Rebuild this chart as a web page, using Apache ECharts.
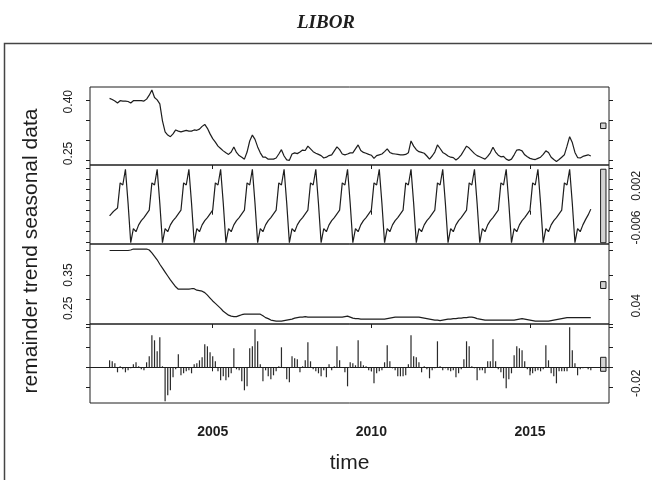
<!DOCTYPE html>
<html>
<head>
<meta charset="utf-8">
<title>LIBOR</title>
<script src="https://cdn.jsdelivr.net/npm/echarts@6.0.0/dist/echarts.min.js"></script>
<style>
  html, body { margin: 0; padding: 0; background: #fff; }
  #main { width: 652px; height: 480px; }
</style>
</head>
<body>
<div id="main"></div>
<script>
// monthly observations, first one at 2001.75
const startTime = 2001.75
const frequency = 12
const timeTicks = [2005, 2010, 2015]

const dataValues = [
  0.406, 0.403, 0.399, 0.394, 0.400, 0.399, 0.399, 0.398, 0.394, 0.400,
  0.400, 0.400, 0.400, 0.399, 0.404, 0.414, 0.427, 0.408, 0.402, 0.392,
  0.349, 0.321, 0.313, 0.309, 0.316, 0.326, 0.323, 0.321, 0.323, 0.325,
  0.323, 0.323, 0.326, 0.325, 0.328, 0.335, 0.340, 0.330, 0.316, 0.304,
  0.295, 0.285, 0.279, 0.273, 0.268, 0.264, 0.270, 0.283, 0.269, 0.261,
  0.257, 0.252, 0.270, 0.298, 0.313, 0.302, 0.283, 0.268, 0.257, 0.257,
  0.252, 0.252, 0.252, 0.255, 0.265, 0.276, 0.260, 0.250, 0.249, 0.265,
  0.268, 0.266, 0.270, 0.275, 0.274, 0.285, 0.278, 0.271, 0.267, 0.264,
  0.261, 0.255, 0.257, 0.261, 0.263, 0.273, 0.283, 0.276, 0.265, 0.263,
  0.265, 0.268, 0.268, 0.278, 0.288, 0.274, 0.269, 0.267, 0.264, 0.262,
  0.254, 0.261, 0.263, 0.265, 0.271, 0.278, 0.269, 0.266, 0.265, 0.264,
  0.263, 0.263, 0.264, 0.268, 0.298, 0.285, 0.276, 0.271, 0.269, 0.267,
  0.260, 0.252, 0.260, 0.270, 0.288, 0.279, 0.269, 0.265, 0.260, 0.257,
  0.256, 0.250, 0.255, 0.263, 0.274, 0.285, 0.280, 0.273, 0.266, 0.261,
  0.258, 0.255, 0.252, 0.259, 0.268, 0.282, 0.270, 0.262, 0.258, 0.259,
  0.252, 0.249, 0.252, 0.263, 0.275, 0.276, 0.273, 0.263, 0.258, 0.254,
  0.252, 0.251, 0.254, 0.257, 0.264, 0.273, 0.269, 0.257, 0.251, 0.246,
  0.251, 0.257, 0.263, 0.285, 0.309, 0.294, 0.269, 0.256, 0.255, 0.259,
  0.261, 0.263, 0.260
]

const seasonalValues = [
  -0.0010, -0.0004, 0.0001, 0.0005, 0.0053, 0.0049, 0.0079, 0.0014,
  -0.0061, -0.0034, -0.0040, -0.0027, -0.0019, -0.0013, -0.0006, 0.0001, 0.0053, 0.0049, 0.0079, 0.0014,
  -0.0061, -0.0034, -0.0040, -0.0027, -0.0019, -0.0013, -0.0006, 0.0001, 0.0053, 0.0049, 0.0079, 0.0014,
  -0.0061, -0.0034, -0.0040, -0.0027, -0.0019, -0.0013, -0.0006, 0.0001, 0.0053, 0.0049, 0.0079, 0.0014,
  -0.0061, -0.0034, -0.0040, -0.0027, -0.0019, -0.0013, -0.0006, 0.0001, 0.0053, 0.0049, 0.0079, 0.0014,
  -0.0061, -0.0034, -0.0040, -0.0027, -0.0019, -0.0013, -0.0006, 0.0001, 0.0053, 0.0049, 0.0079, 0.0014,
  -0.0061, -0.0034, -0.0040, -0.0027, -0.0019, -0.0013, -0.0006, 0.0001, 0.0053, 0.0049, 0.0079, 0.0014,
  -0.0061, -0.0034, -0.0040, -0.0027, -0.0019, -0.0013, -0.0006, 0.0001, 0.0053, 0.0049, 0.0079, 0.0014,
  -0.0061, -0.0034, -0.0040, -0.0027, -0.0019, -0.0013, -0.0006, 0.0001, 0.0053, 0.0049, 0.0079, 0.0014,
  -0.0061, -0.0034, -0.0040, -0.0027, -0.0019, -0.0013, -0.0006, 0.0001, 0.0053, 0.0049, 0.0079, 0.0014,
  -0.0061, -0.0034, -0.0040, -0.0027, -0.0019, -0.0013, -0.0006, 0.0001, 0.0053, 0.0049, 0.0079, 0.0014,
  -0.0061, -0.0034, -0.0040, -0.0027, -0.0019, -0.0013, -0.0006, 0.0001, 0.0053, 0.0049, 0.0079, 0.0014,
  -0.0061, -0.0034, -0.0040, -0.0027, -0.0019, -0.0013, -0.0006, 0.0001, 0.0053, 0.0049, 0.0079, 0.0014,
  -0.0061, -0.0034, -0.0040, -0.0027, -0.0019, -0.0013, -0.0006, 0.0001, 0.0053, 0.0049, 0.0079, 0.0014,
  -0.0061, -0.0034, -0.0040, -0.0027, -0.0019, -0.0013, -0.0006, 0.0001, 0.0053, 0.0049, 0.0079, 0.0014,
  -0.0061, -0.0034, -0.0040, -0.0027, -0.0017, -0.0008, 0.0003
]

const trendValues = [
  0.400, 0.400, 0.400, 0.400, 0.400, 0.400, 0.400, 0.400, 0.401, 0.403,
  0.403, 0.403, 0.403, 0.403, 0.403, 0.401, 0.395, 0.388, 0.381, 0.372,
  0.364, 0.356, 0.348, 0.340, 0.333, 0.326, 0.321, 0.321, 0.321, 0.321,
  0.321, 0.322, 0.322, 0.319, 0.318, 0.317, 0.314, 0.309, 0.303, 0.297,
  0.292, 0.287, 0.282, 0.276, 0.272, 0.268, 0.266, 0.265, 0.265, 0.267,
  0.269, 0.270, 0.270, 0.270, 0.270, 0.270, 0.270, 0.270, 0.267, 0.263,
  0.261, 0.258, 0.257, 0.256, 0.256, 0.256, 0.257, 0.258, 0.259, 0.260,
  0.262, 0.263, 0.264, 0.264, 0.265, 0.264, 0.264, 0.264, 0.264, 0.264,
  0.264, 0.264, 0.264, 0.264, 0.264, 0.264, 0.264, 0.264, 0.264, 0.265,
  0.266, 0.264, 0.262, 0.261, 0.261, 0.260, 0.260, 0.260, 0.260, 0.260,
  0.260, 0.260, 0.260, 0.260, 0.260, 0.261, 0.262, 0.263, 0.264, 0.264,
  0.264, 0.264, 0.264, 0.264, 0.264, 0.264, 0.264, 0.264, 0.263, 0.262,
  0.261, 0.260, 0.259, 0.258, 0.258, 0.257, 0.258, 0.259, 0.260, 0.260,
  0.261, 0.261, 0.262, 0.262, 0.263, 0.263, 0.264, 0.264, 0.263, 0.261,
  0.260, 0.259, 0.258, 0.258, 0.258, 0.258, 0.258, 0.258, 0.258, 0.258,
  0.258, 0.258, 0.258, 0.258, 0.259, 0.260, 0.261, 0.260, 0.259, 0.258,
  0.257, 0.256, 0.256, 0.256, 0.256, 0.256, 0.256, 0.257, 0.258, 0.259,
  0.260, 0.261, 0.262, 0.263, 0.263, 0.263, 0.263, 0.263, 0.263, 0.263,
  0.263, 0.263, 0.263
]

const remainderValues = [
  0.007, 0.006, 0.004, -0.005, 0.001, -0.002, -0.005, -0.003, -0.001, 0.003,
  0.005, 0.001, -0.002, -0.003, 0.005, 0.011, 0.032, 0.027, 0.016, 0.030,
  0.001, -0.034, -0.028, -0.023, -0.010, -0.002, 0.013, -0.008, -0.006, -0.004,
  -0.003, -0.006, 0.003, 0.004, 0.007, 0.010, 0.023, 0.021, 0.015, 0.011,
  0.006, -0.004, -0.013, -0.009, -0.013, -0.010, -0.006, 0.019, -0.002, -0.003,
  -0.014, -0.023, -0.019, 0.019, 0.021, 0.038, 0.026, 0.003, -0.014, -0.003,
  -0.009, -0.012, -0.008, -0.004, 0.001, 0.020, -0.001, -0.012, -0.015, 0.011,
  0.009, 0.008, -0.005, 0.001, 0.007, 0.025, 0.006, -0.002, -0.004, -0.006,
  -0.009, -0.003, -0.010, 0.003, -0.003, 0.001, 0.021, 0.007, 0.000, -0.005,
  -0.019, 0.005, 0.004, 0.002, 0.027, 0.006, 0.002, 0.001, -0.003, -0.004,
  -0.016, -0.006, -0.004, -0.003, 0.005, 0.022, 0.006, -0.001, -0.003, -0.009,
  -0.009, -0.009, -0.008, 0.003, 0.032, 0.011, 0.010, 0.005, -0.005, 0.001,
  -0.002, -0.011, -0.003, -0.001, 0.026, 0.001, -0.003, -0.001, -0.003, -0.004,
  -0.003, -0.010, -0.006, -0.002, 0.008, 0.026, 0.021, 0.001, -0.001, -0.013,
  -0.003, -0.003, -0.006, 0.006, 0.006, 0.028, 0.006, -0.002, -0.005, -0.011,
  -0.021, -0.012, -0.006, 0.012, 0.021, 0.019, 0.017, 0.006, -0.002, -0.008,
  -0.006, -0.004, -0.003, -0.004, -0.002, 0.022, 0.007, -0.006, -0.009, -0.016,
  -0.004, -0.004, -0.004, -0.004, 0.040, 0.017, 0.004, -0.008, -0.002, -0.001,
  0.000, -0.002, -0.003
]

const panelNames = ['data', 'seasonal', 'trend', 'remainder']
const dataTicks = [0.25, 0.30, 0.35, 0.40]
const seasonalTicks = [-0.006, -0.004, -0.002, 0, 0.002, 0.004, 0.006, 0.008]
const trendTicks = [0.25, 0.30, 0.35, 0.40]
const remainderTicks = [-0.02, 0, 0.02, 0.04]
const dataLabels = ['0.25', '0.40']
const seasonalLabels = ['-0.006', '0.002']
const trendLabels = ['0.25', '0.35']
const remainderLabels = ['-0.02', '0.04']

// layout of the four stacked panels
const gridTops = [87, 165, 244, 324]
const gridHeights = [78, 79, 80, 79]
const xRange = [2001.133, 2017.49]
const yRanges = [[0.23722, 0.43468], [-0.006343, 0.008705], [0.25, 0.41327], [-0.0357, 0.0433]]
const rangeBarTime = 2017.31
const ink = '#1e1e1e'
// the printed tick labels sit a little above their ticks (px, upward)
const labelShifts = [[6.5, -1], [14.7, 14.4], [15.7, 0], [4, 21.5]]

const panelValues = [dataValues, seasonalValues, trendValues, remainderValues]
const panelTicks = [dataTicks, seasonalTicks, trendTicks, remainderTicks]
const panelLabels = [dataLabels, seasonalLabels, trendLabels, remainderLabels]

const timeOf = i => startTime + i / frequency
const toPairs = values => values.map((v, i) => [timeOf(i), v])

// grey range bars: same height (smallest range) in every panel
const spans = panelValues.map(v => [Math.min(...v), Math.max(...v)])
const minRange = Math.min(...spans.map(s => s[1] - s[0]))
const rangeBar = s => {
  const mid = (s[0] + s[1]) / 2
  return [[rangeBarTime, mid - minRange / 2, mid + minRange / 2]]
}

const grids = gridTops.map((top, i) => ({
  left: 90, width: 519, top: top, height: gridHeights[i],
  show: true, borderColor: ink, borderWidth: 1, backgroundColor: 'transparent'
}))

const xAxes = gridTops.map((t, i) => ({
  type: 'value', gridIndex: i, min: xRange[0], max: xRange[1],
  axisLine: { show: false }, splitLine: { show: false },
  axisTick: { show: true, customValues: timeTicks, length: 4, lineStyle: { color: ink } },
  axisLabel: {
    show: i === 3, customValues: timeTicks, formatter: v => String(v),
    fontFamily: 'Liberation Sans', fontWeight: 'bold', fontSize: 14, color: ink, margin: 22
  },
  name: i === 3 ? 'time' : '', nameLocation: 'middle', nameGap: 50,
  nameTextStyle: { fontFamily: 'Liberation Sans', fontSize: 21, color: ink }
}))

const yAxes = []
gridTops.forEach((t, i) => {
  ['left', 'right'].forEach(pos => {
    const labelled = (i % 2 === 0) === (pos === 'left')
    const labels = panelLabels[i]
    const rich = {}
    labelShifts[i].forEach((d, k) => {
      rich['s' + k] = {
        fontFamily: 'Liberation Sans', fontSize: 12, color: ink,
        padding: d >= 0 ? [0, 0, 0, 2 * d] : [0, -2 * d, 0, 0]
      }
    })
    yAxes.push({
      type: 'value', gridIndex: i, position: pos, min: yRanges[i][0], max: yRanges[i][1],
      axisLine: { show: false }, splitLine: { show: false },
      axisTick: { show: true, customValues: panelTicks[i], length: 4, lineStyle: { color: ink } },
      axisLabel: {
        show: labelled, customValues: labels.map(Number), rotate: 90,
        formatter: v => {
          const k = labels.findIndex(l => Math.abs(Number(l) - v) < 1e-9)
          return k < 0 ? '' : '{s' + k + '|' + labels[k] + '}'
        },
        rich: rich,
        fontFamily: 'Liberation Sans', fontSize: 12, color: ink, margin: pos === 'left' ? 15 : 22
      }
    })
  })
})

const series = []
panelValues.forEach((values, i) => {
  if (i < 3) {
    series.push({
      type: 'line', xAxisIndex: i, yAxisIndex: 2 * i, data: toPairs(values),
      showSymbol: false, symbol: 'none', lineStyle: { color: ink, width: 1.2 }
    })
  } else {
    series.push({
      type: 'bar', xAxisIndex: i, yAxisIndex: 2 * i, data: toPairs(values),
      barWidth: 1.2, itemStyle: { color: '#2a2a2a' },
      markLine: {
        silent: true, symbol: ['none', 'none'], label: { show: false },
        lineStyle: { color: ink, width: 1, type: 'solid' },
        data: [{ yAxis: 0 }]
      }
    })
  }
  series.push({
    type: 'custom', xAxisIndex: i, yAxisIndex: 2 * i, data: rangeBar(spans[i]), clip: false,
    renderItem: (params, api) => {
      const top = api.coord([api.value(0), api.value(2)])
      const bottom = api.coord([api.value(0), api.value(1)])
      return {
        type: 'rect',
        shape: { x: top[0] - 2.7, y: top[1], width: 5.4, height: bottom[1] - top[1] },
        style: { fill: '#d3d3d3', stroke: ink, lineWidth: 1 }
      }
    }
  })
})

const chart = echarts.init(document.getElementById('main'))
chart.setOption({
  animation: false,
  backgroundColor: '#fff',
  title: {
    text: 'LIBOR', left: 'center', top: 9,
    textStyle: { fontFamily: 'Liberation Serif', fontStyle: 'italic', fontWeight: 'bold', fontSize: 19, color: ink }
  },
  graphic: [
    {
      type: 'rect', shape: { x: 4.5, y: 43.5, width: 700, height: 500 },
      style: { fill: 'none', stroke: '#444', lineWidth: 1.5 }, silent: true
    },
    {
      type: 'text', x: 31, y: 251, rotation: Math.PI / 2,
      style: {
        text: panelNames.slice().reverse().join(' '), fontFamily: 'Liberation Sans', fontSize: 21,
        fill: ink, align: 'center', verticalAlign: 'middle'
      }
    }
  ],
  grid: grids,
  xAxis: xAxes,
  yAxis: yAxes,
  series: series
})
</script>
</body>
</html>
